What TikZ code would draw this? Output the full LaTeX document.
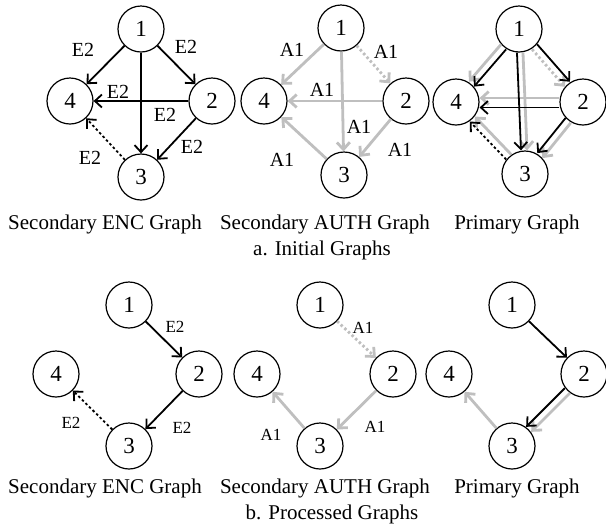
\documentclass[tikz,border=0pt]{standalone}
\usepackage{fontspec}
\setmainfont{Liberation Serif}
\usepackage{tikz}
\usetikzlibrary{arrows.meta}
\definecolor{authgray}{gray}{0.75}
\tikzset{vert/.style={circle, draw=black, line width=1.2pt, minimum size=46pt, inner sep=0pt, font=\fontsize{23}{26}\selectfont}}
\tikzset{enc/.style={line width=1.8pt, -{Straight Barb[length=7pt,width=13pt]}}}
\tikzset{auth/.style={line width=2.8pt, draw=authgray, -{Straight Barb[length=7pt,width=13pt]}}}
\tikzset{dots/.style={dash pattern=on 2.5pt off 2.5pt}}

\begin{document}
\begin{tikzpicture}[x=1pt, y=-1pt, lbl/.style={font=\fontsize{20}{24}\selectfont, inner sep=0pt}, slbl/.style={font=\fontsize{17}{20}\selectfont, inner sep=0pt}, gcap/.style={font=\fontsize{21}{24}\selectfont, anchor=base, inner sep=0pt}]
    \useasboundingbox (0,0) rectangle (606,531);
    % a. initial graphs
    \node[vert] (ea1) at (141,29) {1};
    \node[vert] (ea2) at (212,101) {2};
    \node[vert] (ea3) at (141,177) {3};
    \node[vert] (ea4) at (70,101) {4};
    \node[vert] (aa1) at (341,28) {1};
    \node[vert] (aa2) at (406,101) {2};
    \node[vert] (aa3) at (344,175) {3};
    \node[vert] (aa4) at (264,101) {4};
    \node[vert] (pa1) at (519,29) {1};
    \node[vert] (pa2) at (583,102) {2};
    \node[vert] (pa3) at (525,174) {3};
    \node[vert] (pa4) at (456,102) {4};
    % secondary ENC
    \draw[enc] (ea1) -- (ea4);
    \draw[enc] (ea1) -- (ea2);
    \draw[enc] (ea1) -- (ea3);
    \draw[enc] (ea2) -- (ea4);
    \draw[enc] (ea2) -- (ea3);
    \draw[enc, dots] (ea3) -- (ea4);
    \node[lbl] at (83,50) {E2};
    \node[lbl] at (186,47) {E2};
    \node[lbl] at (118,92) {E2};
    \node[lbl] at (165,115) {E2};
    \node[lbl] at (192,147) {E2};
    \node[lbl] at (90,158) {E2};
    % secondary AUTH
    \draw[auth] (aa1) -- (aa4);
    \draw[auth, dots] (aa1) -- (aa2);
    \draw[auth] (aa1) -- (aa3);
    \draw[auth] (aa2) -- (aa4);
    \draw[auth] (aa2) -- (aa3);
    \draw[auth] (aa3) -- (aa4);
    \node[lbl] at (292,50) {A1};
    \node[lbl] at (386,52) {A1};
    \node[lbl] at (322,90) {A1};
    \node[lbl] at (359,127) {A1};
    \node[lbl] at (400,150) {A1};
    \node[lbl] at (282,160) {A1};
    % primary
    \draw[auth, transform canvas={xshift=-2.5pt, yshift=2.5pt}] (pa1) -- (pa4);
    \draw[auth, dots, transform canvas={xshift=-2.5pt, yshift=-2.5pt}] (pa1) -- (pa2);
    \draw[auth, transform canvas={xshift=3pt}] (pa1) -- (pa3);
    \draw[auth, transform canvas={yshift=4pt}] (pa2) -- (pa4);
    \draw[auth, transform canvas={xshift=2.5pt, yshift=-2.5pt}] (pa2) -- (pa3);
    \draw[auth, transform canvas={xshift=2.5pt, yshift=2.5pt}] (pa3) -- (pa4);
    \draw[enc, transform canvas={xshift=2.5pt, yshift=-2.5pt}] (pa1) -- (pa4);
    \draw[enc, transform canvas={xshift=2.5pt, yshift=2.5pt}] (pa1) -- (pa2);
    \draw[enc, transform canvas={xshift=-3pt}] (pa1) -- (pa3);
    \draw[enc, transform canvas={yshift=-5.5pt}] (pa2) -- (pa4);
    \draw[enc, transform canvas={xshift=-2.5pt, yshift=2.5pt}] (pa2) -- (pa3);
    \draw[enc, dots, transform canvas={xshift=-2.5pt, yshift=-2.5pt}] (pa3) -- (pa4);
    \node[gcap] at (105,229) {Secondary ENC Graph};
    \node[gcap] at (325,229) {Secondary AUTH Graph};
    \node[gcap] at (517,229) {Primary Graph};
    \node[gcap] at (322,255) {a. Initial Graphs};
    % b. processed graphs
    \node[vert] (eb1) at (129,305) {1};
    \node[vert] (eb2) at (199,374) {2};
    \node[vert] (eb3) at (129,446) {3};
    \node[vert] (eb4) at (56,374) {4};
    \node[vert] (ab1) at (320,305) {1};
    \node[vert] (ab2) at (393,374) {2};
    \node[vert] (ab3) at (320,446) {3};
    \node[vert] (ab4) at (257,374) {4};
    \node[vert] (pb1) at (512,305) {1};
    \node[vert] (pb2) at (584,374) {2};
    \node[vert] (pb3) at (512,446) {3};
    \node[vert] (pb4) at (449,374) {4};
    \draw[enc] (eb1) -- (eb2);
    \draw[enc] (eb2) -- (eb3);
    \draw[enc, dots] (eb3) -- (eb4);
    \node[slbl] at (175,327) {E2};
    \node[slbl] at (182,428) {E2};
    \node[slbl] at (71,423) {E2};
    \draw[auth, dots] (ab1) -- (ab2);
    \draw[auth] (ab2) -- (ab3);
    \draw[auth] (ab3) -- (ab4);
    \node[slbl] at (363,328) {A1};
    \node[slbl] at (375,427) {A1};
    \node[slbl] at (271,435) {A1};
    \draw[auth, transform canvas={xshift=2.5pt, yshift=-2.5pt}] (pb2) -- (pb3);
    \draw[auth] (pb3) -- (pb4);
    \draw[enc] (pb1) -- (pb2);
    \draw[enc, transform canvas={xshift=-2.5pt, yshift=2.5pt}] (pb2) -- (pb3);
    \node[gcap] at (105,493) {Secondary ENC Graph};
    \node[gcap] at (325,493) {Secondary AUTH Graph};
    \node[gcap] at (517,493) {Primary Graph};
    \node[gcap] at (332,519) {b. Processed Graphs};
\end{tikzpicture}
\end{document}
